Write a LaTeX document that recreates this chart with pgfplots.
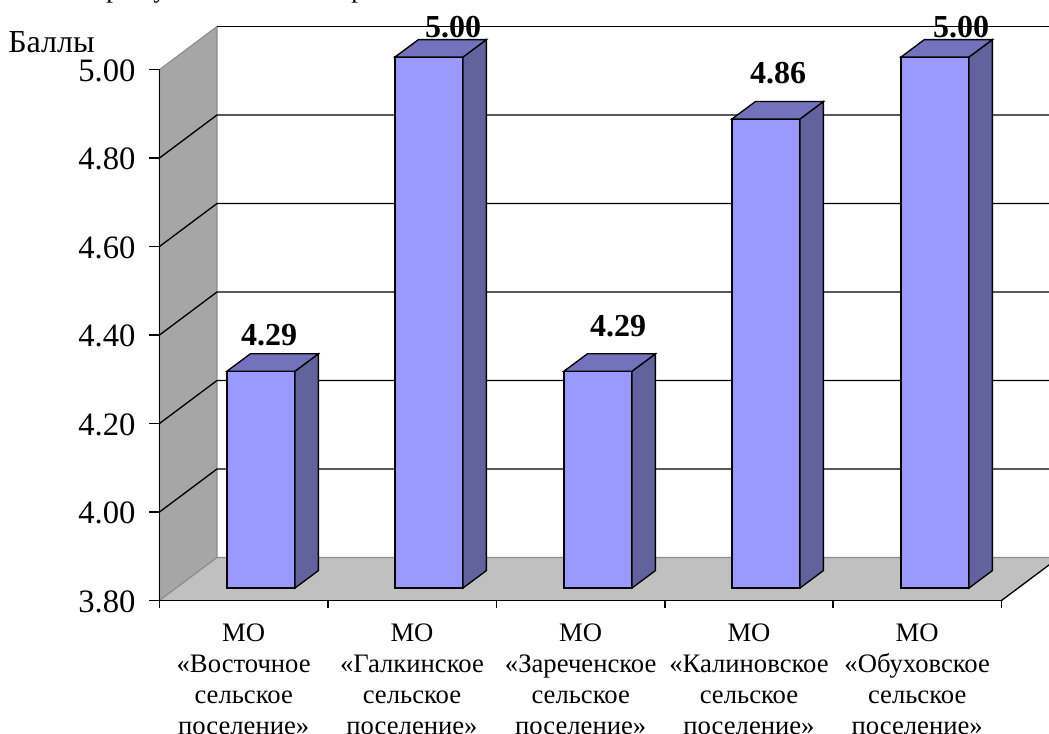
\documentclass[border=0pt]{standalone}
\usepackage{fontspec}
\setmainfont{Liberation Serif}
\usepackage{pgfplots}
\pgfplotsset{compat=1.18}
\definecolor{wallc}{HTML}{A6A6A6}
\definecolor{floorc}{HTML}{C0C0C0}
\definecolor{edgec}{HTML}{8C8C8C}
\definecolor{frontc}{HTML}{9999FF}
\definecolor{sidec}{HTML}{62629F}
\definecolor{topc}{HTML}{7373BD}
\begin{document}
\begin{tikzpicture}
\path[use as bounding box,clip] (0,0) rectangle (786.75pt,549.75pt);
% back plane, floor, axes
\begin{axis}[
  at={(119.625pt,99.375pt)},anchor=origin,
  scale only axis,width=631.5pt,height=398.25pt,
  xmin=159.5,xmax=1001.5,ymin=3.8,ymax=5,
  axis x line=bottom,axis y line=left,
  axis line style={-,black,line width=1pt},
  clip=false,axis on top,
  xtick={243.7,412,580.7,749,917.2},
  xticklabels={{МО\\«Восточное\\сельское\\поселение»},{МО\\«Галкинское\\сельское\\поселение»},{МО\\«Зареченское\\сельское\\поселение»},{МО\\«Калиновское\\сельское\\поселение»},{МО\\«Обуховское\\сельское\\поселение»}},
  xticklabel style={align=center,font=\fontsize{20}{23.25}\selectfont,inner sep=0pt,yshift=-10pt},
  ytick={3.8,4,4.2,4.4,4.6,4.8,5},
  yticklabel style={/pgf/number format/fixed,/pgf/number format/fixed zerofill,/pgf/number format/precision=2,/pgf/number format/assume math mode=true,font=\fontsize{24.5}{24.5}\selectfont,yshift=-0.75pt},
  ytick align=outside,xtick align=outside,
  xtick style={draw=none},
  ytick style={black,line width=0.8pt},
  major tick length=7.5pt,
  yticklabel shift=7pt,
]
\addplot[fill=wallc,draw=edgec,line width=0.8pt] coordinates {(159.5,3.8)(217,3.8972)(217,5.0972)(159.5,5)} -- cycle;
\addplot[fill=floorc,draw=none] coordinates {(159.5,3.8)(1001.5,3.8)(1059,3.8972)(217,3.8972)} -- cycle;
\addplot[edgec,line width=0.8pt] coordinates {(159.5,3.8)(217,3.8972)(1059,3.8972)};
\addplot[black,line width=1pt] coordinates {(1001.5,3.8)(1059,3.8972)};
\addplot[black,line width=1pt] coordinates {(159.5,4.0)(217,4.0972)(1059,4.0972)};
\addplot[black,line width=1pt] coordinates {(159.5,4.2)(217,4.2972)(1059,4.2972)};
\addplot[black,line width=1pt] coordinates {(159.5,4.4)(217,4.4972)(1059,4.4972)};
\addplot[black,line width=1pt] coordinates {(159.5,4.6)(217,4.6972)(1059,4.6972)};
\addplot[black,line width=1pt] coordinates {(159.5,4.8)(217,4.8972)(1059,4.8972)};
\addplot[black,line width=1pt] coordinates {(217,5.0972)(1059,5.0972)};
\addplot[black,line width=0.8pt] coordinates {(159.5,3.8)(159.5,3.784)};
\addplot[black,line width=0.8pt] coordinates {(328,3.8)(328,3.784)};
\addplot[black,line width=0.8pt] coordinates {(496.5,3.8)(496.5,3.784)};
\addplot[black,line width=0.8pt] coordinates {(665,3.8)(665,3.784)};
\addplot[black,line width=0.8pt] coordinates {(833,3.8)(833,3.784)};
\addplot[black,line width=0.8pt] coordinates {(1001.5,3.8)(1001.5,3.784)};
\node[anchor=base,font=\fontsize{24}{24}\selectfont,inner sep=0pt] at (axis cs:51.5,5.0395) {Баллы};
\node[anchor=base,font=\fontsize{20}{20}\selectfont,inner sep=0pt] at (axis cs:113,5.1638) {р};
\node[anchor=base,font=\fontsize{20}{20}\selectfont,inner sep=0pt] at (axis cs:160,5.1638) {у};
\node[anchor=base,font=\fontsize{20}{20}\selectfont,inner sep=0pt] at (axis cs:358,5.1638) {р};
\end{axis}
% bars (their base lies 12.5 px behind the front edge of the floor)
\begin{axis}[
  at={(119.625pt,108.75pt)},anchor=origin,
  scale only axis,width=631.5pt,height=398.25pt,
  xmin=159.5,xmax=1001.5,ymin=3.8,ymax=5,
  hide axis,clip=false,
]
\addplot[ybar,bar width=68,bar shift=0pt,fill=frontc,draw=black,line width=1pt] coordinates {(261,4.29)(429,5.00)(598,4.29)(766,4.86)(935,5.00)};
\addplot[fill=sidec,draw=black,line width=1pt] coordinates {(295,3.8)(318.4,3.8393)(318.4,4.3293)(295,4.29)} -- cycle;
\addplot[fill=topc,draw=black,line width=1pt] coordinates {(227,4.29)(250.4,4.3293)(318.4,4.3293)(295,4.29)} -- cycle;
\addplot[fill=sidec,draw=black,line width=1pt] coordinates {(463,3.8)(486.4,3.8393)(486.4,5.0393)(463,5.00)} -- cycle;
\addplot[fill=topc,draw=black,line width=1pt] coordinates {(395,5.00)(418.4,5.0393)(486.4,5.0393)(463,5.00)} -- cycle;
\addplot[fill=sidec,draw=black,line width=1pt] coordinates {(632,3.8)(655.4,3.8393)(655.4,4.3293)(632,4.29)} -- cycle;
\addplot[fill=topc,draw=black,line width=1pt] coordinates {(564,4.29)(587.4,4.3293)(655.4,4.3293)(632,4.29)} -- cycle;
\addplot[fill=sidec,draw=black,line width=1pt] coordinates {(800,3.8)(823.4,3.8393)(823.4,4.8993)(800,4.86)} -- cycle;
\addplot[fill=topc,draw=black,line width=1pt] coordinates {(732,4.86)(755.4,4.8993)(823.4,4.8993)(800,4.86)} -- cycle;
\addplot[fill=sidec,draw=black,line width=1pt] coordinates {(969,3.8)(992.4,3.8393)(992.4,5.0393)(969,5.00)} -- cycle;
\addplot[fill=topc,draw=black,line width=1pt] coordinates {(901,5.00)(924.4,5.0393)(992.4,5.0393)(969,5.00)} -- cycle;
\node[anchor=base,font=\fontsize{24}{24}\selectfont\bfseries,inner sep=0pt] at (axis cs:269,4.349) {4.29};
\node[anchor=base,font=\fontsize{24}{24}\selectfont\bfseries,inner sep=0pt] at (axis cs:453,5.045) {5.00};
\node[anchor=base,font=\fontsize{24}{24}\selectfont\bfseries,inner sep=0pt] at (axis cs:618,4.369) {4.29};
\node[anchor=base,font=\fontsize{24}{24}\selectfont\bfseries,inner sep=0pt] at (axis cs:778,4.941) {4.86};
\node[anchor=base,font=\fontsize{24}{24}\selectfont\bfseries,inner sep=0pt] at (axis cs:961,5.045) {5.00};
\end{axis}
\end{tikzpicture}
\end{document}
